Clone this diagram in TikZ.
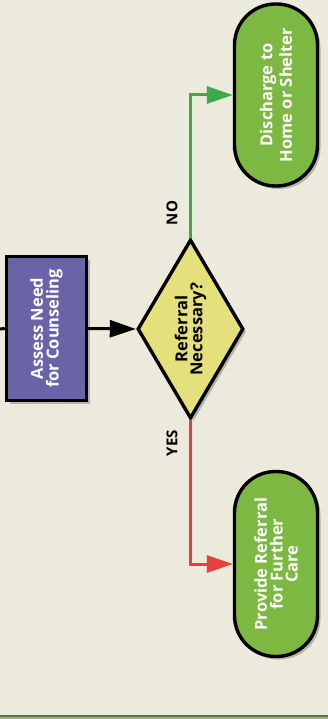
\documentclass[tikz,border=0pt]{standalone}
\usepackage{fontspec}
\setmainfont{Open Sans}
\usepackage{graphicx}
\usetikzlibrary{shapes.geometric,arrows.meta,shadows}
\definecolor{bgc}{HTML}{ECEADD}
\definecolor{purp}{HTML}{6B63A8}
\definecolor{termg}{HTML}{7DB843}
\definecolor{diay}{HTML}{E4E07C}
\definecolor{arrg}{HTML}{3BAA48}
\definecolor{arrr}{HTML}{E5413A}
\definecolor{banddark}{HTML}{5E6B4E}
\definecolor{bandlight}{HTML}{9DB57A}
\tikzset{
  shd/.style={drop shadow={shadow xshift=3pt,shadow yshift=-3pt,opacity=0.35,fill=black!70}},
  procbox/.style={draw=black,line width=3.4pt,fill=purp,text=white,font=\bfseries\fontsize{16.5}{19.5}\selectfont,minimum width=80pt,minimum height=144pt,inner sep=0pt,shd},
  termbox/.style={draw=black,line width=3.4pt,fill=termg,text=white,font=\bfseries\fontsize{16.5}{19.5}\selectfont,minimum width=83pt,rounded corners=41pt,inner sep=0pt,shd},
  decbox/.style={diamond,draw=black,line width=3.4pt,fill=diay,text=black,font=\bfseries\fontsize{16.5}{19.5}\selectfont,minimum width=106pt,minimum height=179pt,inner sep=0pt,aspect=0.6,shd},
  conn/.style={line width=3pt,-{Triangle[length=26pt,width=17pt]}},
  lbl/.style={font=\bfseries\fontsize{15}{18}\selectfont,text=black}
}
\begin{document}
\begin{tikzpicture}[x=1pt,y=1pt]
\useasboundingbox (0,0) rectangle (328,-719);
\fill[bgc] (0,0) rectangle (328,-719);
\fill[banddark] (0,-714.5) rectangle (328,-717);
\fill[bandlight] (0,-717) rectangle (328,-719);

\node[procbox] (assess) at (46.5,-328.5) {\rotatebox{90}{\shortstack{Assess Need\\for Counseling}}};
\node[decbox] (dia) at (190.5,-329) {\rotatebox{90}{\shortstack{Referral\\Necessary?}}};
\node[termbox,minimum height=182pt] (dis) at (276,-95) {\rotatebox{90}{\shortstack{Discharge to\\Home or Shelter}}};
\node[termbox,minimum height=185pt] (prov) at (276,-564) {\rotatebox{90}{\shortstack{Provide Referral\\for Further\\Care}}};

\coordinate (in) at (0,-329);
\draw[line width=3pt] (in) -- (assess.west);
\draw[conn,black] (assess.east) -- (dia.west);
\draw[conn,arrg] (dia.north) |- (dis.west);
\draw[conn,arrr] (dia.south) |- (prov.west);

\node[lbl,rotate=90] (no) at (172,-213) {NO};
\node[lbl,rotate=90] (yes) at (172,-443) {YES};
\end{tikzpicture}
\end{document}
